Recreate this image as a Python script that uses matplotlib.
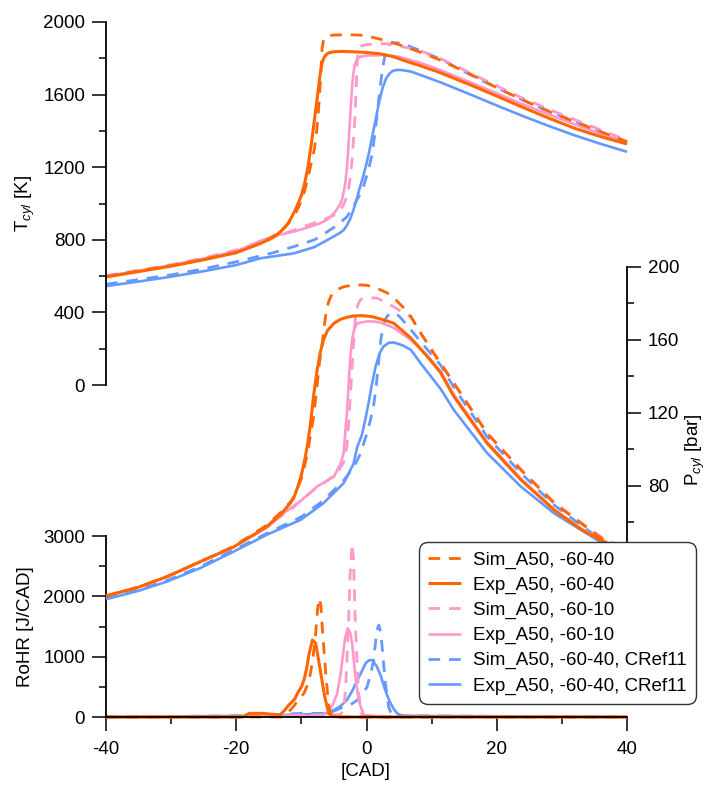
import matplotlib
matplotlib.use('Agg')
import matplotlib.pyplot as plt

plt.rcParams['font.family'] = ['Liberation Sans', 'DejaVu Sans']
plt.rcParams['mathtext.fontset'] = 'custom'
plt.rcParams['mathtext.rm'] = 'Liberation Sans'
plt.rcParams['mathtext.it'] = 'Liberation Sans:italic'
plt.rcParams['axes.unicode_minus'] = False

ORANGE = '#FF6600'
PINK = '#FF99CC'
BLUE = '#6699FF'

labels = ['Sim_A50, -60-40', 'Exp_A50, -60-40', 'Sim_A50, -60-10',
          'Exp_A50, -60-10', 'Sim_A50, -60-40, CRef11', 'Exp_A50, -60-40, CRef11']

# cylinder temperature [K]
t_cad_exp4040 = [-40, -35, -30, -25, -20, -16.3, -15, -14, -13.2, -12.5, -12, -11.5, -11, -10.5, -10, -9.5,
                 -9, -8.5, -8, -7.5, -7.2, -7, -6.8, -6.5, -6.2, -5.8, -5, -4, -2, 0, 2, 4, 6, 8, 11, 16,
                 20, 24, 28, 32, 36, 40]
t_exp4040 = [595, 625, 655, 690, 729, 780, 800, 822, 845, 870, 893, 925, 960, 1000, 1045, 1110,
             1200, 1320, 1460, 1600, 1690, 1740, 1778, 1805, 1820, 1830, 1836, 1838, 1836, 1832, 1825,
             1810, 1785, 1762, 1725, 1653, 1592, 1530, 1470, 1414, 1368, 1328]
t_cad_sim4040 = [-40, -35, -30, -25, -20, -17, -15, -14, -13, -12, -11, -10.5, -10, -9.5, -9, -8.5, -8,
                 -7.7, -7.4, -7.2, -7, -6.9, -6.8, -6.6, -6.3, -5.8, -5, -3, -1, 1, 3, 5, 8, 11, 16, 20,
                 24, 28, 32, 36, 40]
t_sim4040 = [598, 628, 658, 692, 732, 770, 805, 828, 855, 890, 940, 975, 1015, 1070, 1140, 1220, 1300,
             1380, 1500, 1600, 1720, 1800, 1860, 1900, 1918, 1925, 1928, 1930, 1928, 1915, 1897, 1875,
             1837, 1795, 1712, 1638, 1570, 1507, 1450, 1395, 1341]
t_cad_exp4010 = [-40, -30, -25, -20, -16.3, -14, -11.2, -9, -7.1, -6, -5, -4.5, -4, -3.7, -3.4, -3.2, -3,
                 -2.8, -2.6, -2.4, -2.2, -2, -1.8, -1.5, -1.2, -0.9, 0, 3, 5, 8, 11, 16, 20, 24, 28, 32,
                 36, 40]
t_exp4010 = [600, 660, 697, 737, 795, 822, 845, 868, 891, 912, 946, 970, 1000, 1030, 1080, 1130, 1200,
             1300, 1420, 1540, 1650, 1720, 1765, 1790, 1802, 1809, 1815, 1818, 1808, 1778, 1740, 1667,
             1607, 1547, 1490, 1436, 1384, 1335]
t_cad_sim4010 = [-40, -30, -25, -20, -16, -13, -11, -9, -7, -5, -4.5, -4, -3.5, -3, -2.7, -2.4, -2.2, -2,
                 -1.8, -1.6, -1.5, -1.4, -1.2, -0.8, -0.4, 1.6, 4, 5.2, 8, 11, 16, 20, 24, 28, 32, 36, 40]
t_sim4010 = [602, 663, 700, 744, 790, 830, 855, 881, 905, 935, 946, 964, 995, 1040, 1090, 1170, 1250,
             1350, 1460, 1620, 1720, 1800, 1850, 1868, 1873, 1882, 1878, 1866, 1845, 1805, 1718, 1648,
             1580, 1519, 1462, 1405, 1348]
t_cad_expref = [-40, -35, -30, -25, -20, -16.3, -11.2, -8, -6, -4, -3.5, -3, -2.5, -2, -1.5, -1, -0.5, 0,
                0.5, 1, 1.5, 2, 2.5, 3, 3.5, 4, 4.7, 5.5, 6.8, 8.3, 11.4, 16, 20, 24, 28, 32, 36, 40]
t_expref = [545, 570, 597, 627, 661, 698, 725, 760, 799, 840, 854, 880, 915, 965, 1025, 1090, 1150,
            1220, 1300, 1390, 1480, 1570, 1640, 1688, 1715, 1730, 1736, 1735, 1727, 1708, 1667, 1600,
            1540, 1482, 1427, 1375, 1328, 1285]
t_cad_simref = [-40, -30, -25, -20, -14.7, -11.2, -8, -6, -4.5, -3, -2, -1, -0.4, 0, 0.5, 0.9, 1.2, 1.6,
                1.9, 2.2, 2.5, 2.8, 3.1, 3.5, 4, 5, 6.3, 8.3, 11.4, 16, 20, 24, 28, 32, 36, 40]
t_simref = [555, 607, 640, 679, 725, 762, 800, 845, 880, 927, 985, 1050, 1100, 1150, 1215, 1280, 1360,
            1480, 1580, 1670, 1750, 1810, 1850, 1875, 1885, 1885, 1870, 1842, 1795, 1708, 1638, 1570,
            1509, 1452, 1395, 1338]

# cylinder pressure [bar]
p_cad_exp4040 = [-40, -35, -30.6, -25.5, -20.4, -15.3, -13, -11.7, -11, -10.5, -10, -9.5, -9.1, -8.6,
                 -8.1, -7.6, -7.1, -6.6, -6, -5, -4, -3, -2, -0.9, 0, 1, 2, 3, 4.2, 6.8, 9.3, 11.4, 13.4,
                 18.5, 23.7, 28.8, 33, 36.4, 40]
p_exp4040 = [19.7, 24.5, 30.3, 38.5, 46.5, 57.7, 65, 70.6, 75, 80, 86, 94, 101.5, 114, 130, 143, 153,
             160, 165, 169, 171.2, 172.3, 173, 173.2, 173, 172.5, 171.5, 170.5, 169, 161, 151, 141.9,
             129, 103.4, 83.3, 66.8, 56, 49.5, 43]
p_cad_sim4040 = [-40, -35, -30.6, -25.5, -20.4, -15.3, -13, -11.2, -10, -9.1, -8.6, -8.1, -7.8, -7.5,
                 -7.2, -6.8, -6.5, -6.2, -5.8, -5.3, -4.5, -3.5, -2, -0.9, 0, 1, 2, 3.2, 4.2, 5, 6, 6.8,
                 8.3, 10.3, 13.4, 18.5, 23.7, 28.8, 32.9, 36.4, 40]
p_sim4040 = [19.7, 24.5, 30.3, 38.5, 46.8, 58.5, 66, 73, 84, 97, 108, 118, 128, 138, 148, 158, 167,
             175, 181, 185, 187.5, 189, 190, 190, 189.8, 189, 187.5, 185.6, 183, 180, 176.5, 172.8,
             163.7, 152.7, 136.3, 108.8, 88.8, 70.5, 59.6, 50.4, 45]
p_cad_exp4010 = [-40, -35, -30.6, -25.5, -20.4, -15.3, -12.7, -10, -7.6, -5, -4, -3.5, -3.2, -3, -2.7,
                 -2.5, -2.2, -2, -1.8, -1.4, 0, 1.1, 2, 3.2, 4.2, 6.8, 9.3, 11.4, 13.4, 18.5, 23.7, 28.8,
                 33, 36.4, 40]
p_exp4010 = [19.7, 24.5, 30.3, 38.5, 46.5, 57, 65, 72, 79.6, 85, 92, 98, 112, 120, 138, 150, 160, 164,
             166.5, 169, 170, 170, 169.5, 168, 166.5, 160, 151.5, 142.5, 130, 104, 84, 67, 56.5, 50, 43.5]
p_cad_sim4010 = [-40, -35, -30.6, -25.5, -20.4, -15.3, -12, -10, -8, -6, -4.5, -3.5, -3, -2.7, -2.5,
                 -2.2, -2, -1.8, -1.6, -1.3, -0.9, 0, 1.6, 3, 4.2, 5.5, 6.8, 8.3, 10.3, 13.4, 18.5, 23.7,
                 28.8, 32.9, 36.4, 40]
p_sim4010 = [19.7, 24.5, 30.3, 38.5, 46.8, 58, 66, 72, 78, 83, 87, 93, 102, 116, 128, 145, 158, 168,
             175, 179.5, 182, 183, 182.8, 180.5, 178, 175, 172.5, 164, 153, 136.5, 109, 89, 71, 60, 51,
             45.5]
p_cad_expref = [-40, -35, -30.6, -25.5, -20.4, -15.3, -10.1, -6.6, -3.5, -2, -1.4, -0.7, -0.2, 0.3, 0.8,
                1.4, 2, 2.6, 3.4, 4.2, 5.5, 6.8, 8.3, 11.4, 13.4, 18.5, 23.7, 28.8, 35.4, 40]
p_expref = [17.9, 22.5, 27.6, 35, 44, 53.2, 61.4, 70.5, 81.5, 92, 101.5, 108, 116, 125, 135, 145.4,
            152.5, 156.3, 158.3, 158.5, 157, 154.5, 147.2, 133, 121.6, 98, 79.6, 65, 50.4, 42]
p_cad_simref = [-40, -35, -30.6, -25.5, -20.4, -15.3, -10, -6.6, -3.5, -2, -1, 0, 0.6, 1.1, 1.5, 1.9, 2.2,
                2.6, 3, 3.5, 4.2, 5, 5.5, 6.8, 8.3, 11.4, 13.4, 18.5, 23.7, 28.8, 32.9, 36.4, 40]
p_simref = [18.3, 23, 28.2, 35.8, 44.8, 54, 63, 72, 83, 90, 97, 108, 116, 124, 135, 149, 160, 168, 172,
            174.2, 174.6, 173, 171, 165.5, 159, 146, 134, 107, 87, 69.5, 58.5, 49.5, 44]

# rate of heat release [J/CAD]
r_cad_exp4040 = [-40, -19, -18, -16, -14, -13.3, -12.5, -12, -11, -10.6, -10, -9.6, -9.2, -8.8, -8.3,
                 -7.8, -7.1, -6.6, -6.3, -5.8, -5.3, -4, 40]
r_exp4040 = [0, 0, 60, 60, 40, 30, 120, 190, 300, 393, 500, 613, 800, 1056, 1276, 1221, 779, 450, 282,
             61, 10, 0, 0]
r_cad_sim4040 = [-40, -13, -12, -11, -10.6, -10, -9.6, -9, -8.6, -8.2, -7.8, -7.5, -7.3, -7.0, -6.8,
                 -6.3, -5.8, -5.3, 40]
r_sim4040 = [0, 0, 80, 200, 282, 340, 393, 550, 724, 1000, 1386, 1800, 1967, 1850, 1497, 779, 171, 0, 0]
r_cad_exp4010 = [-40, -20, -18, -7, -6, -5.2, -4.5, -4, -3.7, -3.3, -2.9, -2.5, -2.2, -1.7, -1.3, -0.9,
                 -0.4, 1, 3, 40]
r_exp4010 = [0, 0, 20, 20, 61, 200, 393, 700, 945, 1300, 1470, 1400, 1221, 668, 350, 171, 30, 20, 0, 0]
r_cad_sim4010 = [-40, -20, -18, -4, -3.5, -3.2, -3, -2.75, -2.5, -2.2, -2.0, -1.7, -1.45, -1.2, -0.8,
                 -0.3, 40]
r_sim4010 = [0, 0, 20, 40, 116, 500, 945, 1600, 2400, 2870, 2600, 1497, 900, 393, 60, 0, 0]
r_cad_expref = [-40, -18, -14, -10, -6, -5, -4, -3, -2.2, -1.4, -0.7, -0.15, 0.4, 0.9, 1.6, 2.2, 2.7,
                3.2, 3.7, 4.2, 4.7, 5.5, 40]
r_expref = [0, 20, 30, 40, 60, 116, 180, 282, 430, 613, 760, 890, 940, 945, 834, 680, 502, 350, 227,
            130, 61, 20, 0]
r_cad_simref = [-40, -18, -14, -10, -6, -4.5, -3.5, -2.5, -1.4, -0.5, 0.1, 0.6, 1.1, 1.4, 1.6, 1.9,
                2.2, 2.4, 2.9, 3.4, 3.9, 40]
r_simref = [0, 20, 40, 60, 60, 120, 171, 200, 282, 400, 502, 700, 945, 1250, 1442, 1525, 1400, 1166,
            558, 171, 20, 0]

t_data = [(t_cad_sim4040, t_sim4040), (t_cad_exp4040, t_exp4040), (t_cad_sim4010, t_sim4010),
          (t_cad_exp4010, t_exp4010), (t_cad_simref, t_simref), (t_cad_expref, t_expref)]
p_data = [(p_cad_sim4040, p_sim4040), (p_cad_exp4040, p_exp4040), (p_cad_sim4010, p_sim4010),
          (p_cad_exp4010, p_exp4010), (p_cad_simref, p_simref), (p_cad_expref, p_expref)]
r_data = [(r_cad_sim4040, r_sim4040), (r_cad_exp4040, r_exp4040), (r_cad_sim4010, r_sim4010),
          (r_cad_exp4010, r_exp4010), (r_cad_simref, r_simref), (r_cad_expref, r_expref)]

colors = [ORANGE, ORANGE, PINK, PINK, BLUE, BLUE]
dashed = (0, (4.2, 3.2))
styles = [dashed, '-', dashed, '-', dashed, '-']
widths = [2.0, 2.2, 2.0, 1.9, 2.0, 1.9]

fig = plt.figure(figsize=(7.08, 7.85), dpi=100)
rect = [106 / 708, 68 / 785, 521 / 708, 695 / 785]
ax_r = fig.add_axes(rect)
ax_p = fig.add_axes(rect, sharex=ax_r)
ax_t = fig.add_axes(rect, sharex=ax_r)
for a in (ax_r, ax_p, ax_t):
    a.patch.set_visible(False)
    for s in a.spines.values():
        s.set_visible(False)
    a.tick_params(which='both', direction='out', width=1.1, labelsize=13.5, color='black')
    a.tick_params(which='major', length=10, pad=5)
    a.tick_params(which='minor', length=5)

ax_r.set_xlim(-40, 40)
ax_t.set_ylim(-1829, 2000)
ax_r.set_ylim(0, 11520)
ax_p.set_ylim(-46.6, 334)

# lines, blue first so orange ends on top
handles = [None] * 6
for i in [4, 5, 2, 3, 0, 1]:
    for a, data in ((ax_t, t_data), (ax_p, p_data), (ax_r, r_data)):
        ln, = a.plot(data[i][0], data[i][1], color=colors[i], linestyle=styles[i],
                     linewidth=widths[i], solid_capstyle='butt', dash_capstyle='butt',
                     solid_joinstyle='round', clip_on=False)
    handles[i] = ln

# RoHR axis (bottom left) + x axis
ax_r.spines['left'].set_visible(True)
ax_r.spines['left'].set_bounds(0, 3000)
ax_r.spines['bottom'].set_visible(True)
for s in ('left', 'bottom'):
    ax_r.spines[s].set_linewidth(1.3)
ax_r.set_yticks([0, 1000, 2000, 3000])
ax_r.set_yticks([500, 1500, 2500], minor=True)
ax_r.set_xticks([-40, -20, 0, 20, 40])
ax_r.set_xticks([-30, -10, 10, 30], minor=True)
ax_r.tick_params(axis='x', which='major', length=10, pad=7)

# temperature axis (top left)
ax_t.spines['left'].set_visible(True)
ax_t.spines['left'].set_bounds(0, 2000)
ax_t.spines['left'].set_linewidth(1.3)
ax_t.set_yticks([0, 400, 800, 1200, 1600, 2000])
ax_t.set_yticks([200, 600, 1000, 1400, 1800], minor=True)
ax_t.tick_params(axis='x', which='both', bottom=False, labelbottom=False)

# pressure axis (right)
ax_p.spines['right'].set_visible(True)
ax_p.spines['right'].set_bounds(40, 200)
ax_p.spines['right'].set_linewidth(1.3)
ax_p.yaxis.tick_right()
ax_p.set_yticks([40, 80, 120, 160, 200])
ax_p.set_yticks([60, 100, 140, 180], minor=True)
ax_p.tick_params(axis='x', which='both', bottom=False, labelbottom=False)

fig.text(25 / 708, 1 - 204 / 785, 'T$_{cyl}$ [K]', rotation=90, ha='center', va='center', fontsize=13.5)
fig.text(25 / 708, 1 - 627 / 785, 'RoHR [J/CAD]', rotation=90, ha='center', va='center', fontsize=13.5)
fig.text(695 / 708, 1 - 450 / 785, 'P$_{cyl}$ [bar]', rotation=90, ha='center', va='center', fontsize=13.5)
fig.text(366 / 708, 1 - 772 / 785, '[CAD]', ha='center', va='center', fontsize=13.5)

leg = fig.legend(handles, labels, loc='upper left', bbox_to_anchor=(419 / 708, 1 - 542 / 785),
                 borderaxespad=0, fontsize=13.5, handlelength=1.75, handletextpad=0.65,
                 labelspacing=0.42, borderpad=0.5, fancybox=True, framealpha=1)
leg.get_frame().set_edgecolor('#333333')
leg.get_frame().set_linewidth(1.0)
leg.get_frame().set_boxstyle('round', pad=0, rounding_size=0.5)

fig.savefig('out.png', dpi=100)
